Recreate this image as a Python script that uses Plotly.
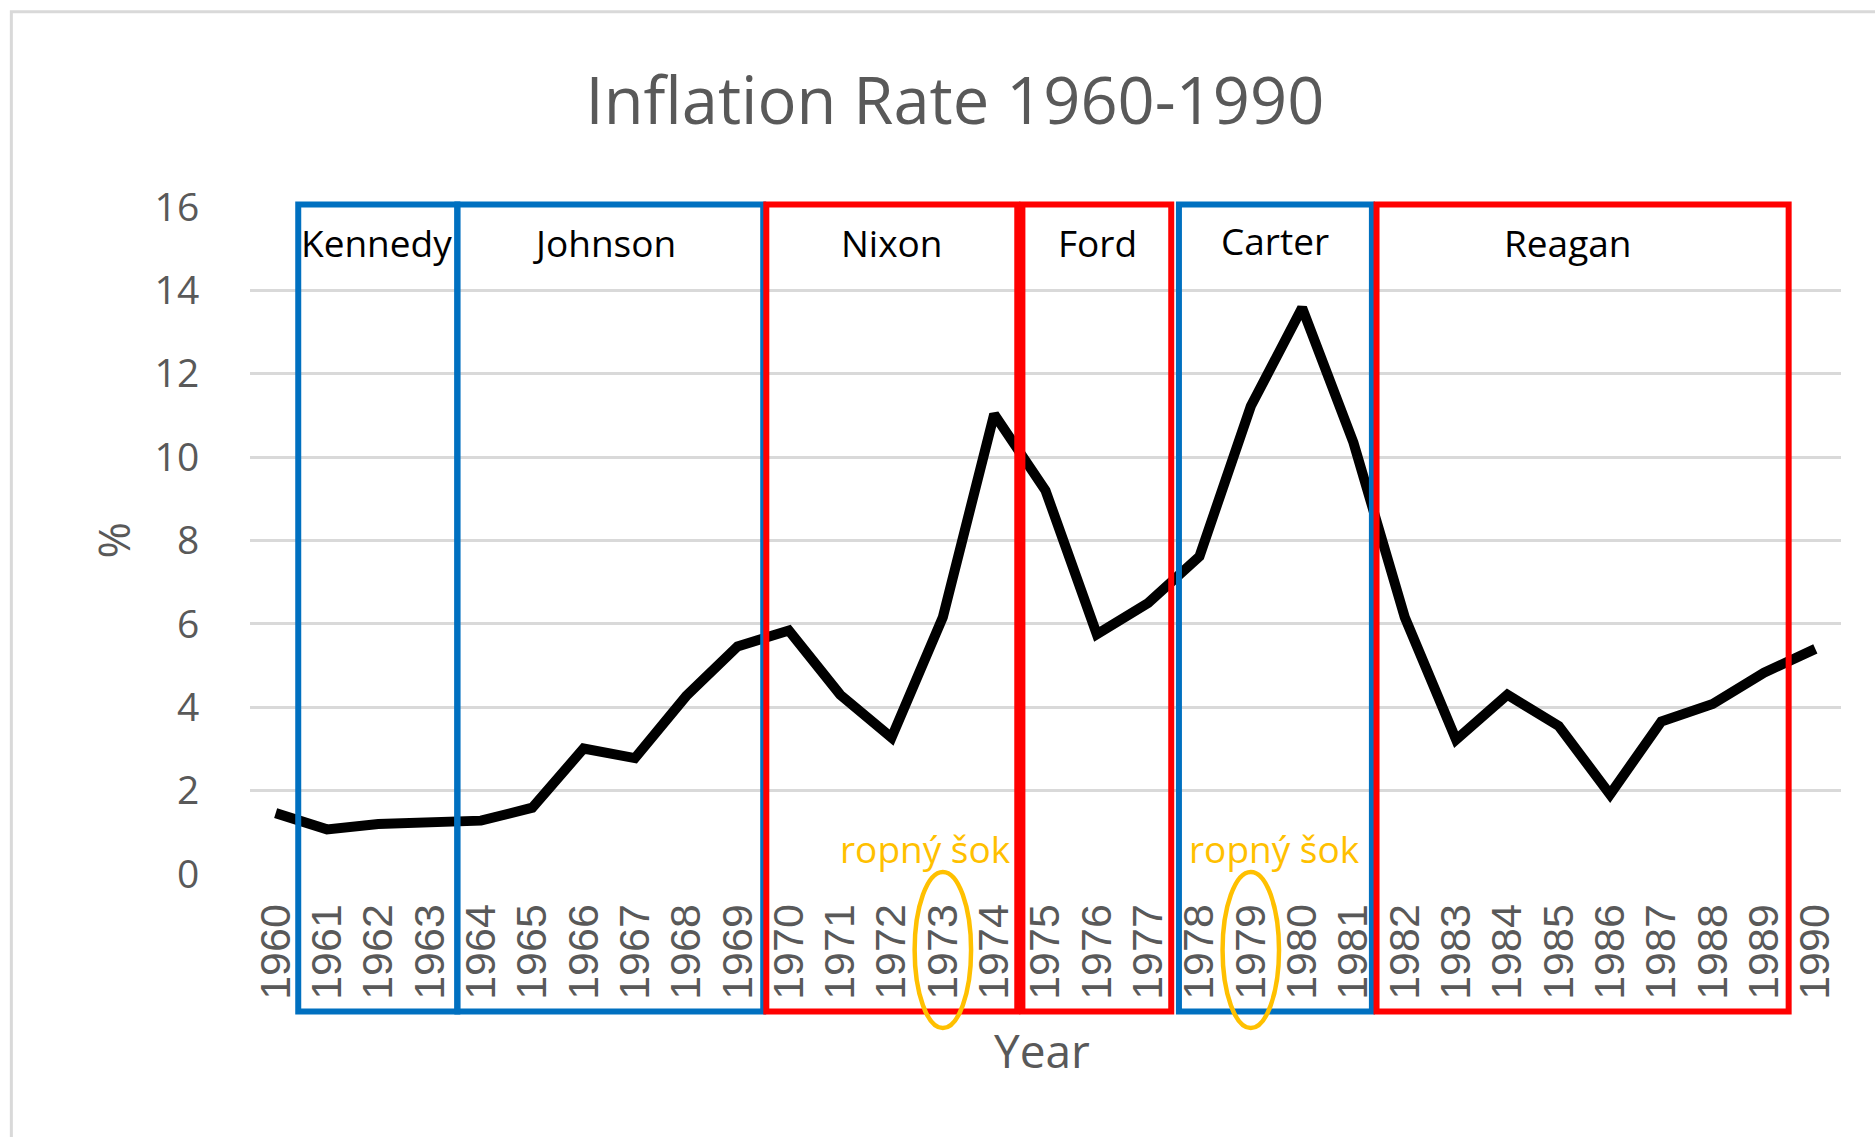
import plotly.graph_objects as go

# ---- data ----
years = [str(y) for y in range(1960, 1991)]
inflation = [1.46, 1.07, 1.20, 1.24, 1.28, 1.59, 3.01, 2.78, 4.27, 5.46,
             5.84, 4.30, 3.27, 6.16, 11.03, 9.20, 5.75, 6.50, 7.62, 11.22,
             13.58, 10.35, 6.16, 3.22, 4.30, 3.55, 1.91, 3.66, 4.08, 4.83, 5.40]

presidents = ["Kennedy", "Johnson", "Nixon", "Ford", "Carter", "Reagan"]
term_start = [0.44, 3.54, 9.56, 14.55, 17.60, 21.45]   # category-index positions
term_end = [3.54, 9.50, 14.45, 17.45, 21.36, 29.48]
party_color = ["#0070C0", "#0070C0", "#FF0000", "#FF0000", "#0070C0", "#FF0000"]
label_x = [1.97, 6.4, 12.0, 16.02, 19.47, 25.18]
label_y = [15.15, 15.15, 15.15, 15.15, 15.2, 15.15]

shock_years = ["1973", "1979"]
shock_label = "ropný šok"
shock_label_x = [12.66, 19.47]

GOLD = "#FFC000"
GRAY = "#595959"

fig = go.Figure()
fig.add_trace(go.Scatter(x=years, y=inflation, mode="lines",
                         line=dict(color="black", width=10), showlegend=False,
                         hoverinfo="x+y"))

shapes = []
# outer chart frame
shapes.append(dict(type="rect", xref="paper", yref="paper",
                   x0=-0.15, x1=1.04, y0=-0.45, y1=1.2928,
                   line=dict(color="#D9D9D9", width=3), layer="below"))
# presidential term boxes
for s, e, c in zip(term_start, term_end, party_color):
    shapes.append(dict(type="rect", xref="x", yref="paper",
                       x0=s, x1=e, y0=-0.206, y1=1.0037,
                       line=dict(color=c, width=6), layer="above"))
# oil shock ellipses
for yr in shock_years:
    i = years.index(yr)
    shapes.append(dict(type="circle", xref="x", yref="paper",
                       x0=i - 0.55, x1=i + 0.55, y0=-0.231, y1=0.003,
                       line=dict(color=GOLD, width=4.5), layer="above"))

annotations = []
for name, lx, ly in zip(presidents, label_x, label_y):
    annotations.append(dict(text=name, x=lx, y=ly, xref="x", yref="y",
                            showarrow=False, xanchor="center", yanchor="middle",
                            font=dict(family="Open Sans", size=37, color="#000000")))
for lx in shock_label_x:
    annotations.append(dict(text=shock_label, x=lx, y=0.61, xref="x", yref="y",
                            showarrow=False, xanchor="center", yanchor="middle",
                            font=dict(family="Open Sans", size=37, color=GOLD)))
# axis titles
annotations.append(dict(text="%", x=-0.0867, y=0.50, xref="paper", yref="paper",
                        showarrow=False, textangle=-90, xanchor="center", yanchor="middle",
                        font=dict(family="Open Sans", size=44, color=GRAY)))
annotations.append(dict(text="Year", x=0.498, y=-0.264, xref="paper", yref="paper",
                        showarrow=False, xanchor="center", yanchor="middle",
                        font=dict(family="Open Sans", size=46, color=GRAY)))

fig.update_layout(
    width=1875, height=1137,
    margin=dict(l=250, r=34, t=207, b=263),
    paper_bgcolor="white", plot_bgcolor="white",
    title=dict(text="Inflation Rate 1960-1990", x=0.5093, xanchor="center",
               y=1 - 101 / 1137, yanchor="middle", yref="container",
               font=dict(family="Open Sans", size=65, color=GRAY)),
    shapes=shapes, annotations=annotations,
    showlegend=False,
)
fig.update_xaxes(type="category", range=[-0.5, 30.5], tickmode="linear", tick0=0, dtick=1,
                 tickangle=-90, showgrid=False,
                 zeroline=False, showline=False, ticks="outside", ticklen=12,
                 tickcolor="rgba(0,0,0,0)",
                 tickfont=dict(family="Liberation Sans", size=43, color=GRAY))
fig.update_yaxes(range=[0, 16], dtick=2, showgrid=True, gridcolor="#D9D9D9", gridwidth=3,
                 zeroline=False, showline=False, ticks="outside", ticklen=42,
                 tickcolor="rgba(0,0,0,0)",
                 tickfont=dict(family="Open Sans", size=39, color=GRAY))

fig.write_html("out.html", config={"displayModeBar": False},
               post_script="document.body.style.margin='0';")
